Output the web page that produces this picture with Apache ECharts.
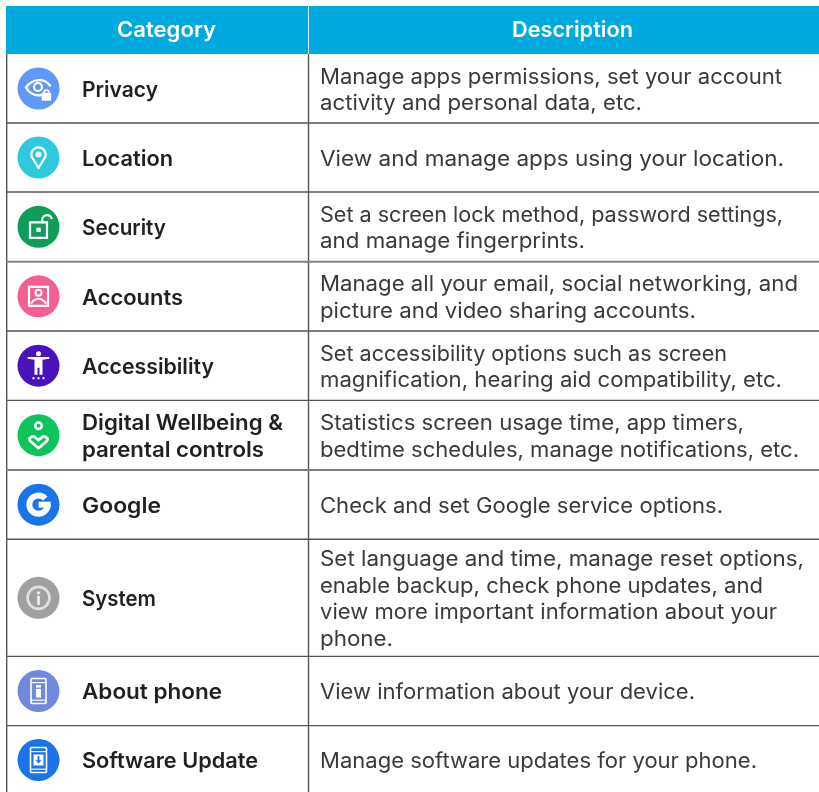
<!DOCTYPE html>
<html><head><meta charset="utf-8">
<style>html,body{margin:0;padding:0;background:#fff}#c{width:819px;height:792px}</style>
<script src="https://cdn.jsdelivr.net/npm/echarts@6/dist/echarts.min.js"></script>
</head><body><div id="c"></div>
<script>
const headers = ['Category', 'Description'];
const categories = [['Privacy'], ['Location'], ['Security'], ['Accounts'], ['Accessibility'],
  ['Digital Wellbeing &', 'parental controls'], ['Google'], ['System'], ['About phone'], ['Software Update']];
const descriptions = [
  ['Manage apps permissions, set your account', 'activity and personal data, etc.'],
  ['View and manage apps using your location.'],
  ['Set a screen lock method, password settings,', 'and manage fingerprints.'],
  ['Manage all your email, social networking, and', 'picture and video sharing accounts.'],
  ['Set accessibility options such as screen', 'magnification, hearing aid compatibility, etc.'],
  ['Statistics screen usage time, app timers,', 'bedtime schedules, manage notifications, etc.'],
  ['Check and set Google service options.'],
  ['Set language and time, manage reset options,', 'enable backup, check phone updates, and', 'view more important information about your', 'phone.'],
  ['View information about your device.'],
  ['Manage software updates for your phone.']
];
const iconKinds = ['privacy','location','security','accounts','accessibility','wellbeing','google','system','about','update'];
const iconColors = ['#5F98F8','#2FC9DF','#0F9D58','#F45F92','#4A12BA','#0CC45A','#1A73E8','#A0A0A0','#7189DD','#1A73E8'];
const rowEdges = [54,123,192,261.7,331,400.4,470,539.3,656.4,725.6,792];
// measured right ends of the text lines in the source layout
const categoryEnds = [[158],[173],[166],[183],[214],[283,264],[161],[156],[222],[258]];
const descriptionEnds = [[782,642],[784],[783,585],[798,696],[727,782],[744,799],[723],[804,763,777,393],[695],[757]];

const W='#fff';
const FONT='Inter, "Open Sans", sans-serif';
const DESC_SIZE=21, CAT_SIZE=21.5, HEAD_SIZE=21.5, LINE=26.6;
const BORDER='#555';
const meas=document.createElement('canvas').getContext('2d');
function fit(text,weight,size,target){meas.font=`${weight} ${size}px Inter`;return target/meas.measureText(text).width;}

function txt(text,x,y,weight,size,color,sx,align){
  return {type:'text',x:x,y:y,scaleX:sx,silent:true,
    style:{text:text,x:0,y:0,font:`${weight} ${size}px ${FONT}`,fill:color,align:align||'left',verticalAlign:'middle'}};
}
const circ=(cx,cy,r,fill)=>({type:'circle',shape:{cx,cy,r},style:{fill:fill||W}});
const ring=(cx,cy,r,lw,stroke)=>({type:'circle',shape:{cx,cy,r},style:{fill:'none',stroke:stroke||W,lineWidth:lw}});
const box=(x,y,w,h,fill,r)=>({type:'rect',shape:{x,y,width:w,height:h,r:r||0},style:{fill:fill||W}});
const frame=(x,y,w,h,lw,r)=>({type:'rect',shape:{x,y,width:w,height:h,r:r||0},style:{fill:'none',stroke:W,lineWidth:lw}});
const poly=(pts,lw)=>({type:'polyline',shape:{points:pts},style:{fill:'none',stroke:W,lineWidth:lw,lineJoin:'round',lineCap:'round'}});
const gon=(pts,fill)=>({type:'polygon',shape:{points:pts},style:{fill:fill||W}});
const arc=(cx,cy,r,a,b,lw)=>({type:'arc',shape:{cx,cy,r,startAngle:a*Math.PI/180,endAngle:b*Math.PI/180,clockwise:true},style:{fill:'none',stroke:W,lineWidth:lw,lineCap:'butt'}});
const curve=(x1,y1,cx1,cy1,cx2,cy2,x2,y2,lw)=>({type:'bezierCurve',shape:{x1,y1,cpx1:cx1,cpy1:cy1,cpx2:cx2,cpy2:cy2,x2,y2},style:{fill:'none',stroke:W,lineWidth:lw,lineCap:'round'}});

const glyphs={
  privacy:c=>[curve(-12.5,-1,-6,-10.5,6,-10.5,11.5,-3,2.4),curve(-12.5,-1,-8,6.5,-2,7.5,3,6.5,2.4),ring(-0.5,-1.5,4,2.2),
    box(3.2,4.2,9.4,8,W,1),arc(7.9,4.2,2.6,180,360,1.7)],
  location:c=>[arc(0,-3,7.2,160,380,2.2),poly([[-6.8,-.6],[0,10.5],[6.8,-.6]],2.2),circ(0,-3,3)],
  security:c=>[frame(-8.5,-4.5,17,15.5,2.2),box(-2.2,.8,4.4,4.4),arc(8.5,-7,4.8,180,350,2.2),poly([[3.7,-7],[3.7,-4.5]],2.2)],
  accounts:c=>[frame(-9.5,-9.5,19,19,2.2),ring(0,-3.5,3,2),curve(-7,6.5,-3,1,3,1,7,6.5,2)],
  accessibility:c=>[circ(0,-12,2.5),gon([[-10.8,-8.8],[10.8,-8.8],[10.8,-7],[4,-6],[4,9],[1,9],[1,2],[-1,2],[-1,9],[-4,9],[-4,-6],[-10.8,-7]]),
    box(-6,11.5,2,2),box(-1,11.5,2,2),box(4,11.5,2,2)],
  wellbeing:c=>[ring(0,-9.5,3.2,2.6),poly([[0,13],[-8.6,5.5],[-9.2,3.5],[-7,1.5],[-4,1.5],[0,5],[4,1.5],[7,1.5],[9.2,3.5],[8.6,5.5],[0,13]],2.8)],
  google:c=>[arc(0,0,9.2,0,318,6),box(0,-3,12.2,6)],
  system:c=>[ring(0,0,11,2.6,'#E2E2E2'),circ(0,-5,1.7,'#EDEDED'),box(-1.4,-2,2.8,9,'#EDEDED')],
  about:c=>[frame(-7.5,-12.5,15,25,1.6,1),box(-7.5,-9,15,1.2),box(-7.5,8.6,15,1.2),box(-2.5,-6,5,2.6),box(-2.5,-2.2,5,8.8)],
  update:c=>[frame(-8,-12.5,16,25,1.6,1),box(-8,-9,16,1.2),box(-8,8.6,16,1.2),box(-5,-5.5,10,11),
    box(-.9,-4,1.8,5,c),gon([[-3,.2],[3,.2],[0,3.6]],c)]
};

const els=[];
const L=6, R=819, M=308.5, HEAD_TOP=6, HEAD_BOT=54;
els.push({type:'rect',shape:{x:L,y:HEAD_TOP,width:R-L,height:HEAD_BOT-HEAD_TOP},style:{fill:'#00A9E0'}});
els.push({type:'rect',shape:{x:M-.5,y:HEAD_TOP,width:1,height:HEAD_BOT-HEAD_TOP},style:{fill:'#D5F0FA'}});
els.push(txt(headers[0],166.5,31,600,HEAD_SIZE,W,fit(headers[0],600,HEAD_SIZE,99),'center'));
els.push(txt(headers[1],572.5,31,600,HEAD_SIZE,W,fit(headers[1],600,HEAD_SIZE,121),'center'));
els.push({type:'rect',shape:{x:L,y:HEAD_BOT,width:1.4,height:792-HEAD_BOT},style:{fill:BORDER}});
els.push({type:'rect',shape:{x:M-.7,y:HEAD_BOT,width:1.4,height:792-HEAD_BOT},style:{fill:BORDER}});
rowEdges.slice(1,-1).forEach((y,i)=>{
  const heavy=i===2||i===5;
  els.push({type:'rect',shape:{x:L,y:y-(heavy?1:.7),width:R-L,height:heavy?2:1.4},style:{fill:heavy?'#808080':BORDER}});
});
categories.forEach((lines,i)=>{
  const cy=(rowEdges[i]+rowEdges[i+1])/2;
  const iy=i===9?760:cy;
  els.push({type:'group',x:38.5,y:iy,children:[circ(0,0,21,iconColors[i])].concat(glyphs[iconKinds[i]](iconColors[i]))});
  lines.forEach((t,j)=>els.push(txt(t,82,iy+2+(j-(lines.length-1)/2)*LINE,600,CAT_SIZE,'#231F20',fit(t,600,CAT_SIZE,categoryEnds[i][j]-82))));
  descriptions[i].forEach((t,j)=>els.push(txt(t,320,iy+2+(j-(descriptions[i].length-1)/2)*LINE,400,DESC_SIZE,'#3A3A3A',fit(t,400,DESC_SIZE,descriptionEnds[i][j]-320))));
});
const chart=echarts.init(document.getElementById('c'),null,{renderer:'canvas'});
chart.setOption({animation:false,backgroundColor:'#fff',graphic:{elements:els}});
</script></body></html>
